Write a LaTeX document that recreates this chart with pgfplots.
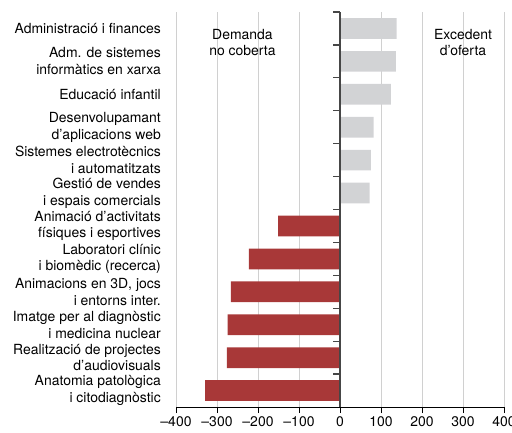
\documentclass[border=0pt]{standalone}
\usepackage{fontspec}
\setmainfont{TeX Gyre Heros}
\usepackage{pgfplots}
\pgfplotsset{compat=1.18}

\definecolor{barred}{RGB}{168,56,56}
\definecolor{bargray}{RGB}{210,211,213}
\definecolor{gridgray}{RGB}{208,208,208}
\definecolor{zeroline}{RGB}{70,70,70}

\newcommand\lblfont{\fontsize{14}{16.8}\selectfont}

\begin{document}
\begin{tikzpicture}
\begin{axis}[
    scale only axis,
    width=328bp, height=395bp,
    xmin=-400, xmax=400,
    ymin=-0.5, ymax=11.5,
    y dir=reverse,
    xbar, bar width=0.63, bar shift=0pt,
    axis x line*=bottom, axis y line*=left,
    y axis line style={draw=none},
    x axis line style={black, line width=0.8pt, -},
    xtick={-400,-300,...,400},
    xticklabels={–400,–300,–200,–100,0,100,200,300,400},
    tick align=outside,
    major tick length=6bp,
    xtick style={black, line width=0.8pt},
    ytick={0,...,11},
    ytick style={draw=none},
    yticklabels={
        {Administració i finances},
        {Adm. de sistemes\\informàtics en xarxa},
        {Educació infantil},
        {Desenvolupamant\\d’aplicacions web},
        {Sistemes electrotècnics\\i automatitzats},
        {Gestió de vendes\\i espais comercials},
        {Animació d’activitats\\físiques i esportives},
        {Laboratori clínic\\i biomèdic (recerca)},
        {Animacions en 3D, jocs\\i entorns inter.},
        {Imatge per al diagnòstic\\i medicina nuclear},
        {Realització de projectes\\d’audiovisuals},
        {Anatomia patològica\\i citodiagnòstic}},
    yticklabel style={align=right, inner sep=0pt, xshift=-9bp},
    ticklabel style={font=\lblfont},
    xmajorgrids,
    grid style={gridgray, line width=0.9pt},
    clip=false,
]
\addplot[draw=none, fill=bargray] coordinates {
    (138,0) (136,1) (124,2) (82,3) (75,4) (72,5)};
\addplot[draw=none, fill=barred] coordinates {
    (-151,6) (-222,7) (-266,8) (-274,9) (-276,10) (-329,11)};

\node[align=center, font=\lblfont]
    at (axis cs:-238,0.43) {Demanda\\no coberta};
\node[align=center, font=\lblfont]
    at (axis cs:300,0.43) {Excedent\\d’oferta};

\coordinate (bl) at (axis cs:-400,11.5);
\coordinate (tr) at (axis cs:400,-0.5);
\coordinate (z) at (axis cs:0,11.5);
\end{axis}

% zero line with its short ticks between categories
\begin{axis}[
    at={(z)}, anchor=south west,
    scale only axis,
    width=164bp, height=395bp,
    xmin=0, xmax=400,
    ymin=-0.5, ymax=11.5,
    y dir=reverse,
    axis x line=none,
    axis y line*=left,
    y axis line style={zeroline, line width=1.2pt, -},
    ytick={-0.5,0.5,...,10.5},
    yticklabels={},
    tick align=outside,
    major tick length=7bp,
    ytick style={zeroline, line width=1.2pt},
]
\end{axis}

\pgfresetboundingbox
\path ([shift={(-176bp,-25.3bp)}]bl) rectangle ([shift={(8bp,12bp)}]tr);
\end{tikzpicture}
\end{document}
